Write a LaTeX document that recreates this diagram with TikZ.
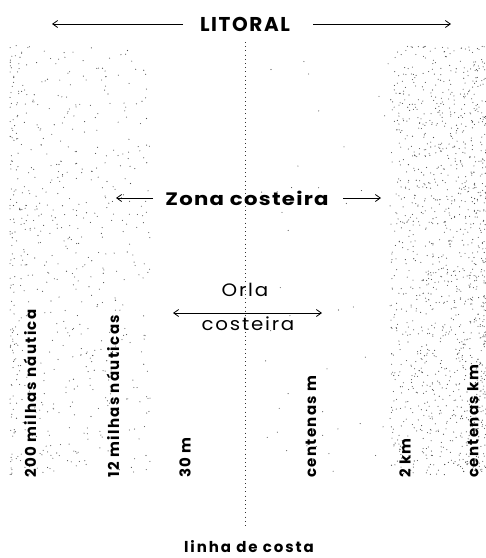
\documentclass[tikz,border=0pt]{standalone}
\usepackage{fontspec}
\setmainfont{Poppins}
\usetikzlibrary{arrows.meta}
\begin{document}
\begin{tikzpicture}[x=1pt,y=-1pt,
  lbl/.style={inner sep=0pt},
  vlbl/.style={font=\bfseries\fontsize{15}{16}\selectfont\addfontfeature{LetterSpace=9}, inner sep=0pt, rotate=90, anchor=west},
  arr/.style={line width=0.8pt, -{Straight Barb[length=5pt,width=7pt]}},
  dot/.style={fill=black!70}]
\useasboundingbox (0,0) rectangle (486,558);
% stipple, left
\pgfmathsetseed{42}
\foreach \i in {1,...,650}{
  \pgfmathsetmacro\px{10+140*(rnd^1.6)}
  \pgfmathsetmacro\py{45+430*rnd}
  \fill[dot] (\px,\py) circle (0.55pt);
}
% stipple, right
\foreach \i in {1,...,1300}{
  \pgfmathsetmacro\px{486-96*(rnd^1.3)}
  \pgfmathsetmacro\py{45+430*rnd}
  \fill[dot] (\px,\py) circle (0.55pt);
}
% sparse middle dots
\foreach \i in {1,...,40}{
  \pgfmathsetmacro\px{260+130*rnd}
  \pgfmathsetmacro\py{60+420*rnd}
  \fill[dot] (\px,\py) circle (0.55pt);
}
% coast line
\coordinate (ctop) at (245,42);
\coordinate (cbot) at (245,528);
\draw[black!80, line width=0.7pt, dash pattern=on 0.7pt off 3.5pt] (ctop) -- (cbot);
% Litoral
\node[lbl, font=\bfseries\fontsize{20}{21}\selectfont\addfontfeature{LetterSpace=8}] (lit) at (245,24) {LITORAL};
\coordinate (litL) at (52,24);
\coordinate (litR) at (451,24);
\draw[arr] (183,24) -- (litL);
\draw[arr] (313,24) -- (litR);
% Zona costeira
\node[lbl, xscale=1.18, font=\bfseries\fontsize{18}{19}\selectfont\addfontfeature{LetterSpace=6}] (zona) at (247,198) {Zona costeira};
\coordinate (zL) at (116,198);
\coordinate (zR) at (381,198);
\draw[arr] (153,198) -- (zL);
\draw[arr] (343,198) -- (zR);
% Orla costeira
\node[lbl, xscale=1.1, font=\fontsize{18}{19}\selectfont\addfontfeature{LetterSpace=9}] (orla) at (245,290) {Orla};
\node[lbl, xscale=1.1, font=\fontsize{18}{19}\selectfont\addfontfeature{LetterSpace=9}] (cost) at (248,324) {costeira};
\coordinate (oL) at (173,313);
\coordinate (oR) at (322,313);
\coordinate (oM) at (245,313);
\draw[arr] (oM) -- (oL);
\draw[arr] (oM) -- (oR);
% vertical labels
\node[vlbl] (v1) at (30,478) {200 milhas náutica};
\node[vlbl] (v2) at (113,478) {12 milhas náuticas};
\node[vlbl] (v3) at (185,478) {30 m};
\node[vlbl] (v4) at (311,478) {centenas m};
\node[vlbl] (v5) at (405,478) {2 km};
\node[vlbl] (v6) at (473,478) {centenas km};
% linha de costa
\node[lbl, font=\bfseries\fontsize{15}{16}\selectfont\addfontfeature{LetterSpace=13}] (lc) at (249,547) {linha de costa};
\end{tikzpicture}
\end{document}
